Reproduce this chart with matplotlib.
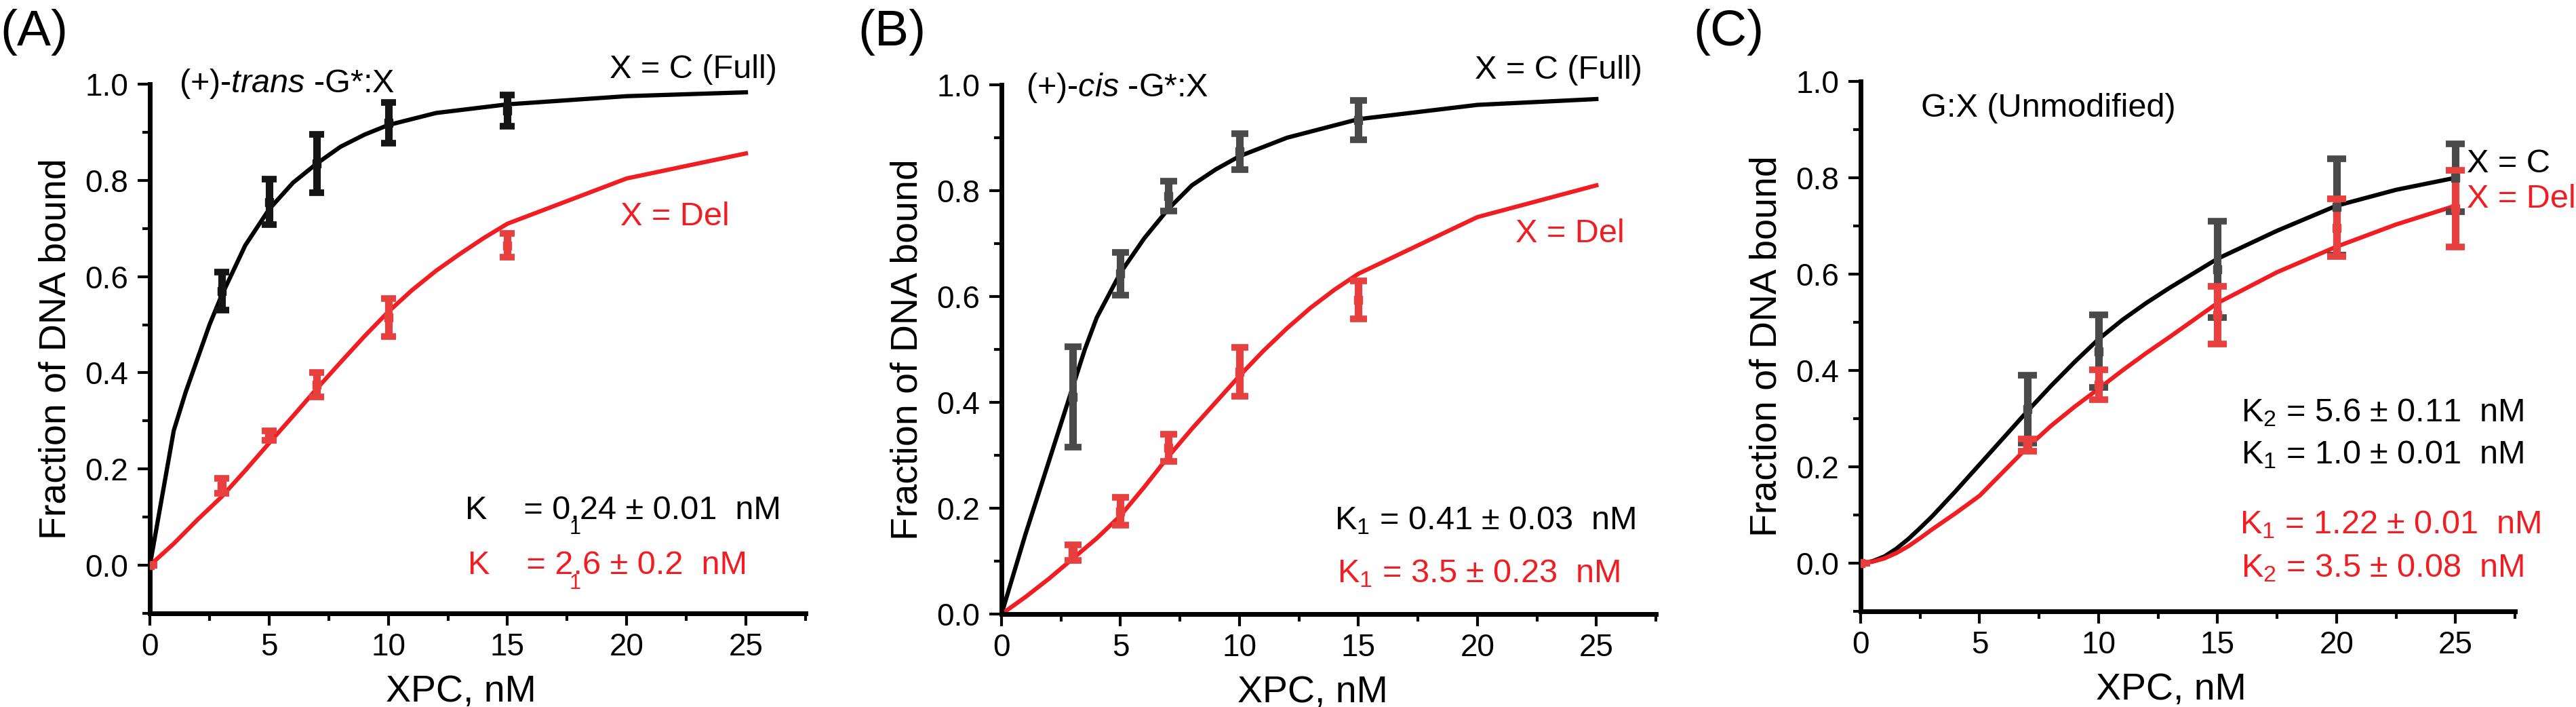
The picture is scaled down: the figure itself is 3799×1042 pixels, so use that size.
import matplotlib
matplotlib.use("Agg")
import matplotlib.pyplot as plt
from matplotlib.ticker import MultipleLocator

plt.rcParams['font.family'] = ['Liberation Sans', 'DejaVu Sans']
plt.rcParams['mathtext.fontset'] = 'custom'
plt.rcParams['mathtext.rm'] = 'Liberation Sans'
plt.rcParams['mathtext.it'] = 'Liberation Sans:italic'

#===Data: panel A, (+)-trans-G*:X===#
a_x = [3, 5, 7, 10, 15]
a_c_y = [0.57, 0.755, 0.835, 0.92, 0.945]
a_c_err = [0.04, 0.047, 0.06, 0.042, 0.032]
a_del_x = [0, 3, 5, 7, 10, 15]
a_del_y = [0, 0.165, 0.27, 0.375, 0.515, 0.665]
a_del_err = [0, 0.016, 0.01, 0.025, 0.04, 0.025]
a_c_fit_x = [0, 1, 1.5, 2, 2.5, 3, 4, 5, 6, 7, 8, 9, 10, 12, 15, 20, 25]
a_c_fit_y = [0, 0.28, 0.36, 0.43, 0.50, 0.56, 0.665, 0.74, 0.795, 0.835, 0.87, 0.895, 0.915, 0.94, 0.958, 0.975, 0.983]
a_del_fit_x = [0, 1, 2, 3, 4, 5, 6, 7, 8, 9, 10, 11, 12, 13, 14, 15, 20, 25]
a_del_fit_y = [0, 0.045, 0.095, 0.142, 0.197, 0.254, 0.31, 0.367, 0.422, 0.476, 0.527, 0.572, 0.612, 0.647, 0.68, 0.71, 0.804, 0.856]

#===Data: panel B, (+)-cis-G*:X===#
b_x = [3, 5, 7, 10, 15]
b_c_y = [0.41, 0.643, 0.79, 0.874, 0.933]
b_c_err = [0.095, 0.04, 0.028, 0.034, 0.037]
b_del_y = [0.116, 0.194, 0.314, 0.458, 0.594]
b_del_err = [0.015, 0.026, 0.026, 0.046, 0.036]
b_c_fit_x = [0, 1, 2, 3, 3.5, 4, 5, 6, 7, 8, 9, 10, 12, 15, 20, 25]
b_c_fit_y = [0, 0.15, 0.29, 0.43, 0.50, 0.56, 0.645, 0.71, 0.765, 0.81, 0.84, 0.865, 0.9, 0.935, 0.962, 0.973]
b_del_fit_x = [0, 1, 2, 3, 4, 5, 6, 7, 8, 9, 10, 11, 12, 13, 14, 15, 20, 25]
b_del_fit_y = [0, 0.032, 0.067, 0.105, 0.143, 0.186, 0.24, 0.297, 0.35, 0.40, 0.45, 0.497, 0.54, 0.579, 0.613, 0.643, 0.75, 0.81]

#===Data: panel C, G:X (Unmodified)===#
c_x = [7, 10, 15, 20, 25]
c_c_y = [0.32, 0.44, 0.61, 0.74, 0.80]
c_c_err = [0.07, 0.075, 0.1, 0.1, 0.07]
c_del_x = [0, 7, 10, 15, 20, 25]
c_del_y = [0, 0.245, 0.37, 0.515, 0.696, 0.736]
c_del_err = [0, 0.013, 0.031, 0.06, 0.06, 0.079]
c_fit_x = [0, 0.5, 1, 1.5, 2, 2.5, 3, 4, 5, 6, 7, 8, 9, 10, 11, 12, 13, 15, 17.5, 20, 22.5, 25]
c_c_fit_y = [0, 0.004, 0.014, 0.03, 0.05, 0.073, 0.097, 0.15, 0.205, 0.26, 0.315, 0.368, 0.418, 0.465, 0.505, 0.54, 0.572, 0.632, 0.69, 0.742, 0.775, 0.80]
c_del_fit_y = [0, 0.003, 0.01, 0.021, 0.035, 0.052, 0.07, 0.104, 0.14, 0.19, 0.24, 0.285, 0.325, 0.362, 0.40, 0.436, 0.47, 0.54, 0.604, 0.657, 0.703, 0.742]

x_ticks = [0, 5, 10, 15, 20, 25]

RED = '#f01e23'
RED_BAR = '#e8403f'
GREY_BAR = '#4a4a4a'
TXT = 35

fig = plt.figure(figsize=(37.99, 10.42), dpi=100)
axA = fig.add_axes([0.0582, 0.1324, 0.2545, 0.7486])
axB = fig.add_axes([0.3888, 0.1315, 0.2540, 0.7486])
axC = fig.add_axes([0.7223, 0.1353, 0.2540, 0.7495])


def style(ax, ymin):
    ax.set_xlim(0, 27.5)
    ax.set_ylim(ymin, 1.0)
    for s in ['top', 'right']:
        ax.spines[s].set_visible(False)
    for s in ['left', 'bottom']:
        ax.spines[s].set_linewidth(5)
    ax.set_xticks(x_ticks)
    ax.xaxis.set_minor_locator(MultipleLocator(2.5))
    ax.yaxis.set_minor_locator(MultipleLocator(0.1))
    ax.set_yticks([0, 0.2, 0.4, 0.6, 0.8, 1.0])
    ax.set_yticklabels(['0.0', '0.2', '0.4', '0.6', '0.8', '1.0'])
    ax.tick_params(which='major', direction='out', length=13, width=3, labelsize=33)
    ax.tick_params(which='minor', direction='out', length=8, width=3)
    ax.tick_params(axis='x', pad=7)
    ax.tick_params(axis='y', pad=10)
    ax.set_ylabel('Fraction of DNA bound', fontsize=40, labelpad=12)
    ax.set_xlabel('XPC, nM', fontsize=40, labelpad=12)
    ax.xaxis.set_label_coords(0.475, -0.115)


def bars(ax, x, y, e, color, cap):
    ax.errorbar(x, y, yerr=e, fmt='s', color=color, ms=9, elinewidth=8,
                capsize=cap, capthick=7, zorder=3)


#===Panel A===#
style(axA, -0.1)
axA.plot(a_c_fit_x, a_c_fit_y, color='black', lw=4.5, zorder=2)
axA.plot(a_del_fit_x, a_del_fit_y, color=RED, lw=4.5, zorder=2)
bars(axA, a_x, a_c_y, a_c_err, '#151515', 8)
bars(axA, a_del_x, a_del_y, a_del_err, RED_BAR, 8)
axA.text(0.0445, 1.001, '(+)-$\\mathit{trans}$ -G*:X', transform=axA.transAxes, fontsize=TXT, va='center')
axA.text(0.701, 1.027, 'X = C (Full)', transform=axA.transAxes, fontsize=TXT, va='center')
axA.text(0.718, 0.75, 'X = Del', transform=axA.transAxes, fontsize=TXT, va='center', color=RED)
axA.text(0.481, 0.194, 'K    = 0.24 ± 0.01  nM', transform=axA.transAxes, fontsize=TXT, va='center')
axA.text(0.485, 0.091, 'K    = 2.6 ± 0.2  nM', transform=axA.transAxes, fontsize=TXT, va='center', color=RED)
# misplaced subscripts as in the original figure
axA.text(0.640, 0.160, '1', transform=axA.transAxes, fontsize=22, va='center')
axA.text(0.640, 0.057, '1', transform=axA.transAxes, fontsize=22, va='center', color=RED)

#===Panel B===#
style(axB, 0.0)
axB.plot(b_c_fit_x, b_c_fit_y, color='black', lw=4.5, zorder=2)
axB.plot(b_del_fit_x, b_del_fit_y, color=RED, lw=4.5, zorder=2)
bars(axB, b_x, b_c_y, b_c_err, GREY_BAR, 9)
bars(axB, b_x, b_del_y, b_del_err, RED_BAR, 9)
axB.text(0.037, 0.994, '(+)-$\\mathit{cis}$ -G*:X', transform=axB.transAxes, fontsize=TXT, va='center')
axB.text(0.723, 1.028, 'X = C (Full)', transform=axB.transAxes, fontsize=TXT, va='center')
axB.text(0.785, 0.718, 'X = Del', transform=axB.transAxes, fontsize=TXT, va='center', color=RED)
axB.text(0.509, 0.177, 'K$_1$ = 0.41 ± 0.03  nM', transform=axB.transAxes, fontsize=TXT, va='center')
axB.text(0.513, 0.077, 'K$_1$ = 3.5 ± 0.23  nM', transform=axB.transAxes, fontsize=TXT, va='center', color=RED)

#===Panel C===#
style(axC, -0.1)
axC.plot(c_fit_x, c_c_fit_y, color='black', lw=4.5, zorder=2)
axC.plot(c_fit_x, c_del_fit_y, color=RED, lw=4.5, zorder=2)
bars(axC, c_x, c_c_y, c_c_err, GREY_BAR, 10)
bars(axC, c_del_x, c_del_y, c_del_err, RED_BAR, 10)
axC.text(0.092, 0.949, 'G:X (Unmodified)', transform=axC.transAxes, fontsize=TXT, va='center')
axC.text(0.926, 0.845, 'X = C', transform=axC.transAxes, fontsize=TXT, va='center')
axC.text(0.926, 0.778, 'X = Del', transform=axC.transAxes, fontsize=TXT, va='center', color=RED, clip_on=False)
axC.text(0.581, 0.375, 'K$_2$ = 5.6 ± 0.11  nM', transform=axC.transAxes, fontsize=TXT, va='center')
axC.text(0.581, 0.296, 'K$_1$ = 1.0 ± 0.01  nM', transform=axC.transAxes, fontsize=TXT, va='center')
axC.text(0.579, 0.164, 'K$_1$ = 1.22 ± 0.01  nM', transform=axC.transAxes, fontsize=TXT, va='center', color=RED)
axC.text(0.581, 0.082, 'K$_2$ = 3.5 ± 0.08  nM', transform=axC.transAxes, fontsize=TXT, va='center', color=RED)

#===Panel letters===#
fig.text(0.0, 0.954, '(A)', fontsize=54, va='center')
fig.text(0.3332, 0.954, '(B)', fontsize=54, va='center')
fig.text(0.6575, 0.954, '(C)', fontsize=54, va='center')

fig.savefig('out.png', dpi=100)
